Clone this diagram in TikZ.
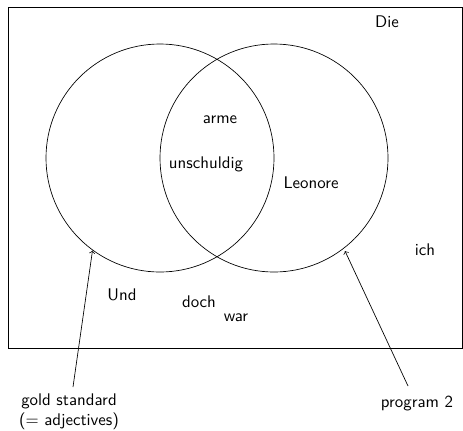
\documentclass[tikz,border=0pt]{standalone}
\begin{document}
\begin{tikzpicture}[x=0.593pt,y=-0.593pt,
  word/.style={font=\sffamily,inner sep=0pt},
  setcircle/.style={draw,circle,line width=0.4pt,minimum size=228*0.593pt,inner sep=0pt},
  pointer/.style={->,line width=0.4pt}]
\useasboundingbox (0,0) rectangle (463,430);
\node[draw,line width=0.6pt,inner sep=0pt,minimum width=453.5*0.593pt,minimum height=340.8*0.593pt] (frame) at (235.25,177.9) {};
\node[setcircle] (gold) at (160,158) {};
\node[setcircle] (prog) at (274,158) {};
\node[word] (die) at (387,22) {Die};
\node[word] (arme) at (220,120) {arme};
\node[word] (unsch) at (206,164) {unschuldig};
\node[word] (leo) at (311,183) {Leonore};
\node[word] (ich) at (425,250) {ich};
\node[word] (und) at (122,295) {Und};
\node[word] (doch) at (199,302) {doch};
\node[word] (war) at (236,318) {war};
\node[word,align=center] (goldlab) at (69,412) {gold standard\\(= adjectives)};
\node[word] (proglab) at (417,404) {program 2};
\coordinate (goldtip) at (92.5,250.5);
\coordinate (progtip) at (345,251);
\coordinate (goldstart) at (73,387);
\coordinate (progstart) at (408,386);
\draw[pointer] (goldstart) -- (goldtip);
\draw[pointer] (progstart) -- (progtip);
\end{tikzpicture}
\end{document}
